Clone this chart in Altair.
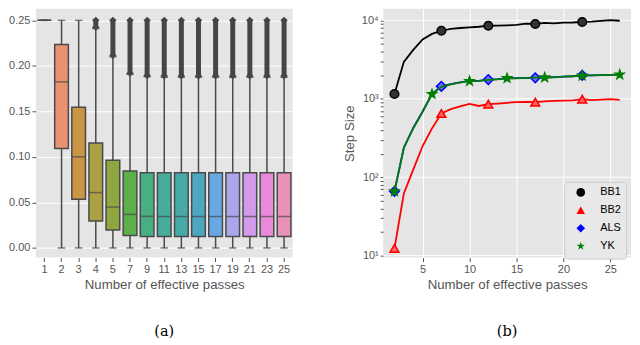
import altair as alt
import pandas as pd

# ---------------- panel (a): box plots ----------------
passes = [1, 2, 3, 4, 5, 7, 9, 11, 13, 15, 17, 19, 21, 23, 25]
whisk_lo = [0.25, 0, 0, 0, 0, 0, 0, 0, 0, 0, 0, 0, 0, 0, 0]
q1 = [0.25, 0.1092, 0.0534, 0.0297, 0.0198, 0.0138, 0.0127, 0.0126, 0.0126, 0.0126, 0.0126, 0.0126, 0.0126, 0.0126, 0.0126]
med = [0.25, 0.1824, 0.1000, 0.0608, 0.0449, 0.0368, 0.0347, 0.0345, 0.0345, 0.0345, 0.0345, 0.0345, 0.0345, 0.0345, 0.0345]
q3 = [0.25, 0.2235, 0.1545, 0.1153, 0.0962, 0.0845, 0.0827, 0.0826, 0.0826, 0.0825, 0.0826, 0.0826, 0.0826, 0.0826, 0.0826]
whisk_hi = [0.25, 0.25, 0.25, 0.241, 0.210, 0.1907, 0.188, 0.1875, 0.1875, 0.1875, 0.1875, 0.1875, 0.1875, 0.1875, 0.1875]
out_passes = [4, 5, 7, 9, 11, 13, 15, 17, 19, 21, 23, 25]
out_lo = [0.2425, 0.2115, 0.192, 0.1895, 0.189, 0.189, 0.189, 0.189, 0.189, 0.189, 0.189, 0.189]
out_hi = [0.25, 0.25, 0.25, 0.25, 0.25, 0.25, 0.25, 0.25, 0.25, 0.25, 0.25, 0.25]
box_colors = ["#E68A8F", "#E8926F", "#CA9545", "#ABA045", "#90A63F", "#5DAF4A", "#48AF83",
              "#47AC9B", "#48A9A9", "#4BA8BE", "#6AA8E3", "#AAA6EC", "#D29AEA", "#E88AD9", "#E891BA"]

# ---------------- panel (b): step sizes ----------------
x_passes = list(range(2, 27))
bb1 = [1150, 2960, 4200, 5730, 6730, 7380, 7820, 8000, 8130, 8300, 8550, 8600, 8650, 8750, 9100,
       9000, 9300, 9150, 9350, 9400, 9550, 9650, 9850, 10100, 9900]
bb2 = [12.4, 62, 125, 250, 420, 650, 738, 800, 860, 810, 855, 870, 890, 905, 910,
       905, 930, 940, 950, 955, 990, 960, 975, 990, 970]
als = [66, 238, 425, 690, 1160, 1440, 1540, 1620, 1690, 1690, 1760, 1780, 1820, 1830, 1840,
       1850, 1870, 1890, 1920, 1940, 1990, 1990, 2000, 2020, 2030]
yk = [66, 238, 420, 680, 1150, 1420, 1530, 1620, 1680, 1690, 1740, 1770, 1830, 1820, 1850,
      1860, 1870, 1880, 1920, 1940, 1970, 1990, 2000, 2020, 2030]
series_names = ["BB1", "BB2", "ALS", "YK"]
marker_x = {
    "BB1": [2, 7, 12, 17, 22],
    "BB2": [2, 7, 12, 17, 22],
    "ALS": [2, 7, 12, 17, 22],
    "YK": [2, 6, 10, 14, 18, 22, 26],
}
decades = [10, 100, 1000, 10000]
line_colors = ["#000000", "#FF0000", "#0000FF", "#007F00"]
fill_colors = ["#333333", "#FF6464", "#6E6EFF", "#007F00"]
STAR = ("M0,-1L0.235,-0.324L0.951,-0.309L0.380,0.124L0.588,0.809L0,0.4"
        "L-0.588,0.809L-0.380,0.124L-0.951,-0.309L-0.235,-0.324Z")
marker_shapes = ["circle", "triangle-up", "diamond", STAR]
marker_sizes = [75, 80, 95, 85]

GRAY = "#555555"
BOXLINE = "#4a4a4a"
BG = "#E5E5E5"
VIEW = alt.ViewBackground(fill=BG, strokeWidth=0)

# ---------------- build panel (a) ----------------
df_box = pd.DataFrame({"passes": passes, "lo": whisk_lo, "q1": q1, "med": med, "q3": q3, "hi": whisk_hi})
df_out = pd.DataFrame({"passes": out_passes, "out_lo": out_lo, "out_hi": out_hi})

yscale_a = alt.Scale(domain=[-0.0106, 0.2627], nice=False, zero=False)
xscale_a = alt.Scale(domain=passes, paddingInner=0, paddingOuter=0)
xaxis_a = alt.Axis(title="Number of effective passes", labelAngle=0, labelFontSize=11,
                   labelColor=GRAY, tickColor=GRAY, tickSize=4, labelPadding=2,
                   titleFontSize=13.3, titleColor=GRAY, titleFontWeight="normal",
                   titlePadding=3, domain=False, grid=False)
yaxis_a = alt.Axis(title="", values=[0, 0.05, 0.10, 0.15, 0.20, 0.25], format=".2f",
                   labelFontSize=11, labelColor=GRAY, tickColor=GRAY, tickSize=4,
                   labelPadding=2, domain=False, gridColor="white", gridWidth=1)

base_a = alt.Chart(df_box).encode(x=alt.X("passes:O", scale=xscale_a, axis=xaxis_a))
base_o = alt.Chart(df_out).encode(x=alt.X("passes:O"))

w_lo = base_a.mark_rule(color=BOXLINE, strokeWidth=1.5).encode(
    y=alt.Y("lo:Q", scale=yscale_a, axis=yaxis_a), y2="q1:Q")
w_hi = base_a.mark_rule(color=BOXLINE, strokeWidth=1.5).encode(y="q3:Q", y2="hi:Q")
outl = base_o.mark_rule(color="#454545", strokeWidth=5).encode(y="out_lo:Q", y2="out_hi:Q")
out_tip_lo = base_o.mark_point(shape="diamond", filled=True, color="#454545", size=55,
                               opacity=1).encode(y="out_lo:Q")
out_tip_hi = base_o.mark_point(shape="diamond", filled=True, color="#454545", size=55,
                               opacity=1).encode(y="out_hi:Q")
cap_lo = base_a.mark_tick(color=BOXLINE, size=7.5, thickness=1.5).encode(y="lo:Q")
cap_hi = base_a.mark_tick(color=BOXLINE, size=7.5, thickness=1.5).encode(y="hi:Q")
box = base_a.mark_bar(width={"band": 0.8}, stroke=BOXLINE, strokeWidth=1.5, opacity=1).encode(
    y="q1:Q", y2="q3:Q",
    color=alt.Color("passes:O", scale=alt.Scale(domain=passes, range=box_colors), legend=None))
median = base_a.mark_tick(color=BOXLINE, size=13.8, thickness=1.5).encode(y="med:Q")

panel_a = alt.layer(w_lo, w_hi, outl, out_tip_lo, out_tip_hi, cap_lo, cap_hi, box, median).properties(
    width=258, height=250, view=VIEW,
    title=alt.TitleParams("(a)", orient="bottom", font="DejaVu Serif", fontSize=14.5,
                          fontWeight="normal", color="black", offset=34),
)

# ---------------- build panel (b) ----------------
rows = []
for name, vals in zip(series_names, [bb1, bb2, als, yk]):
    for xv, v in zip(x_passes, vals):
        rows.append({"x": xv, "value": v, "series": name,
                     "marker": xv in marker_x[name]})
df_line = pd.DataFrame(rows)
df_dec = pd.DataFrame({"dec": decades})

tick_vals = []
for d in [10, 100, 1000]:
    for k in range(1, 10):
        tick_vals.append(d * k)
tick_vals.append(10000)

xscale_b = alt.Scale(domain=[0.8, 27.2], nice=False, zero=False)
yscale_b = alt.Scale(type="log", domain=[9.44, 14060], nice=False)
xaxis_b = alt.Axis(title="Number of effective passes", values=[5, 10, 15, 20, 25],
                   labelFontSize=11, labelColor=GRAY, tickColor=GRAY, tickSize=4, labelPadding=2,
                   titleFontSize=13.3, titleColor=GRAY, titleFontWeight="normal", titlePadding=3,
                   domain=False, gridColor="white", gridWidth=1)
yaxis_b = alt.Axis(
    title="Step Size", values=tick_vals,
    labelExpr="datum.value == 10 ? '10\u00b9' : datum.value == 100 ? '10\u00b2' : "
              "datum.value == 1000 ? '10\u00b3' : datum.value == 10000 ? '10\u2074' : ''",
    labelOverlap=False, labelFontSize=11, labelColor=GRAY, tickColor=GRAY,
    labelPadding=2, tickSize=3, grid=False,
    titleFontSize=13.3, titleColor=GRAY, titleFontWeight="normal", titlePadding=5,
    domain=False,
)

layers_b = [
    alt.Chart(df_dec).mark_rule(color="white", strokeWidth=1).encode(
        y=alt.Y("dec:Q", scale=yscale_b, axis=yaxis_b))
]
for i, name in enumerate(series_names):
    src = alt.Chart(df_line).transform_filter(alt.datum.series == name)
    ln = src.mark_line(color=line_colors[i], strokeWidth=1.8).encode(
        x=alt.X("x:Q", scale=xscale_b, axis=xaxis_b),
        y=alt.Y("value:Q", scale=yscale_b, axis=yaxis_b),
    )
    pt = src.transform_filter("datum.marker").mark_point(
        shape=marker_shapes[i], filled=True, fill=fill_colors[i], stroke=line_colors[i],
        strokeWidth=1.5, size=marker_sizes[i], opacity=1).encode(x="x:Q", y="value:Q")
    layers_b += [ln, pt]

leg = alt.Legend(title=None, orient="none", legendX=182, legendY=174,
                 fillColor="#E8E8E8", strokeColor="#CCCCCC", cornerRadius=3, padding=5,
                 rowPadding=3, labelFontSize=11, labelColor="black", labelOffset=14,
                 symbolSize=75, symbolStrokeWidth=1.5, symbolOffset=6, symbolOpacity=1)
legend_layer = alt.Chart(df_line).transform_filter("datum.x == 2").mark_point(
    opacity=0, filled=True).encode(
    x="x:Q", y="value:Q",
    color=alt.Color("series:N", scale=alt.Scale(domain=series_names, range=line_colors), legend=leg),
    shape=alt.Shape("series:N", scale=alt.Scale(domain=series_names, range=marker_shapes), legend=leg),
)

panel_b = alt.layer(*layers_b, legend_layer).properties(
    width=249, height=250, view=VIEW,
    title=alt.TitleParams("(b)", orient="bottom", font="DejaVu Serif", fontSize=14.5,
                          fontWeight="normal", color="black", offset=34),
)

chart = alt.hconcat(panel_a, panel_b, spacing=50).resolve_scale(
    color="independent", shape="independent"
).properties(padding=0)

chart.save("out.html", embed_options={"renderer": "svg", "actions": False})
